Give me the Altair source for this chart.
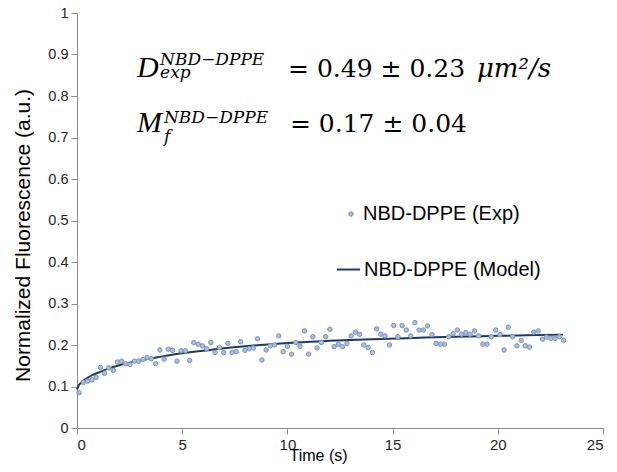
import altair as alt
import pandas as pd

# ---- data ----
exp_time = [0.10, 0.30, 0.50, 0.71, 0.91, 1.11, 1.31, 1.51, 1.72, 1.92,
            2.12, 2.32, 2.52, 2.73, 2.93, 3.13, 3.33, 3.53, 3.74, 3.94,
            4.14, 4.34, 4.54, 4.75, 4.95, 5.15, 5.35, 5.55, 5.76, 5.96,
            6.16, 6.36, 6.56, 6.77, 6.97, 7.17, 7.37, 7.57, 7.78, 7.98,
            8.18, 8.38, 8.58, 8.79, 8.99, 9.19, 9.39, 9.59, 9.80, 10.00,
            10.20, 10.40, 10.60, 10.81, 11.01, 11.21, 11.41, 11.61, 11.82, 12.02,
            12.22, 12.42, 12.62, 12.83, 13.03, 13.23, 13.43, 13.63, 13.84, 14.04,
            14.24, 14.44, 14.64, 14.85, 15.05, 15.25, 15.45, 15.65, 15.86, 16.06,
            16.26, 16.46, 16.66, 16.87, 17.07, 17.27, 17.47, 17.67, 17.88, 18.08,
            18.28, 18.48, 18.68, 18.89, 19.09, 19.29, 19.49, 19.69, 19.90, 20.10,
            20.30, 20.50, 20.70, 20.91, 21.11, 21.31, 21.51, 21.71, 21.92, 22.12,
            22.32, 22.52, 22.72, 22.93, 23.13]
exp_value = [0.085, 0.110, 0.113, 0.116, 0.122, 0.146, 0.132, 0.145, 0.139, 0.159,
             0.161, 0.155, 0.153, 0.161, 0.161, 0.165, 0.170, 0.167, 0.155, 0.188,
             0.166, 0.190, 0.187, 0.161, 0.186, 0.186, 0.163, 0.206, 0.202, 0.198,
             0.191, 0.206, 0.182, 0.194, 0.182, 0.204, 0.182, 0.184, 0.208, 0.187,
             0.191, 0.193, 0.215, 0.164, 0.188, 0.198, 0.200, 0.222, 0.184, 0.197,
             0.178, 0.206, 0.197, 0.234, 0.178, 0.220, 0.193, 0.206, 0.220, 0.238,
             0.196, 0.202, 0.196, 0.204, 0.222, 0.231, 0.226, 0.200, 0.194, 0.182,
             0.239, 0.226, 0.222, 0.200, 0.247, 0.220, 0.247, 0.236, 0.222, 0.254,
             0.236, 0.236, 0.246, 0.225, 0.204, 0.202, 0.202, 0.220, 0.227, 0.236,
             0.226, 0.230, 0.226, 0.234, 0.222, 0.202, 0.202, 0.220, 0.236, 0.225,
             0.188, 0.243, 0.220, 0.198, 0.211, 0.198, 0.195, 0.231, 0.234, 0.214,
             0.219, 0.216, 0.216, 0.220, 0.211]

model_time = [0, 0.1, 0.25, 0.5, 0.75, 1, 1.5, 2, 3, 4, 5, 6, 7, 8, 10, 12, 14, 16, 18, 20, 23.1]
model_value = [0.093, 0.104, 0.112, 0.121, 0.128, 0.133, 0.143, 0.151, 0.163, 0.172,
               0.180, 0.186, 0.192, 0.197, 0.205, 0.210, 0.214, 0.217, 0.220, 0.222, 0.225]

x_ticks = [0, 5, 10, 15, 20, 25]
y_ticks = [0, 0.1, 0.2, 0.3, 0.4, 0.5, 0.6, 0.7, 0.8, 0.9, 1]

exp_name = "NBD-DPPE (Exp)"
model_name = "NBD-DPPE (Model)"

# annotation text (equations), placed in data coordinates
ann_text = ["D", "M", "NBD\u2212DPPE", "exp", "NBD\u2212DPPE", "f",
            "= 0.49 \u00b1 0.23", "= 0.17 \u00b1 0.04", "\u03bcm\u00b2/s"]
ann_t = [2.85, 2.85, 3.95, 3.95, 4.13, 4.13, 10.03, 10.12, 19.01]
ann_v = [0.846, 0.713, 0.875, 0.843, 0.735, 0.690, 0.846, 0.713, 0.846]
ann_style = ["big", "big", "small", "small", "small", "small", "num", "num", "unit"]

# ---- build ----
exp_df = pd.DataFrame({"t": exp_time, "v": exp_value, "series": exp_name})
model_df = pd.DataFrame({"t": model_time, "v": model_value, "series": model_name})
ann_df = pd.DataFrame({"t": ann_t, "v": ann_v, "text": ann_text, "style": ann_style})

axis_color = "#8c8c8c"
label_color = "#262626"
sans = "Liberation Sans"
serif = "DejaVu Serif"

x_enc = alt.X("t:Q", scale=alt.Scale(domain=[0, 25], nice=False, zero=False),
              axis=alt.Axis(values=x_ticks, title="Time (s)", grid=False,
                            tickSize=6, labelPadding=3, labelFontSize=15,
                            labelFont=sans, labelColor=label_color,
                            titleFont=sans, titleFontSize=16, titleFontWeight="normal",
                            titleColor="#000000", titleX=241, titleY=32,
                            titleBaseline="alphabetic",
                            domainColor=axis_color, tickColor=axis_color))
y_enc = alt.Y("v:Q", scale=alt.Scale(domain=[0, 1], nice=False),
              axis=alt.Axis(values=y_ticks, format="~g", title="Normalized Fluorescence (a.u.)",
                            grid=False, tickSize=6, labelPadding=3, labelFontSize=14.5,
                            labelFont=sans, labelColor=label_color,
                            titleFont=sans, titleFontSize=21, titleFontWeight="normal",
                            titleColor="#000000", titleX=-54, titleY=222,
                            titleBaseline="middle",
                            domainColor=axis_color, tickColor=axis_color))

points = alt.Chart(exp_df).mark_point(
    filled=True, size=20, stroke="#7b96c4", strokeWidth=1, opacity=1
).encode(
    x=x_enc, y=y_enc,
    fill=alt.Fill("series:N",
                  scale=alt.Scale(domain=[exp_name], range=["#aabddc"]),
                  legend=alt.Legend(orient="none", legendX=264, legendY=191, title=None,
                                    symbolType="circle", symbolSize=20,
                                    symbolStrokeColor="#7b96c4", symbolStrokeWidth=1,
                                    labelFontSize=20, labelFont=sans, labelColor="#000000",
                                    labelOffset=2, labelLimit=400, padding=0))
)

line = alt.Chart(model_df).mark_line(strokeWidth=2, interpolate="monotone").encode(
    x=x_enc, y=y_enc,
    stroke=alt.Stroke("series:N",
                      scale=alt.Scale(domain=[model_name], range=["#1f3864"]),
                      legend=alt.Legend(orient="none", legendX=259, legendY=244, title=None,
                                        symbolType="stroke", symbolSize=529,
                                        symbolStrokeWidth=2,
                                        labelFontSize=20, labelFont=sans, labelColor="#000000",
                                        labelOffset=3, labelLimit=400, padding=0))
)

def ann_layer(style, size, italic, font):
    kw = dict(align="left", baseline="alphabetic", font=font, fontSize=size, color="#000000")
    if italic:
        kw["fontStyle"] = "italic"
    return alt.Chart(ann_df).transform_filter(
        alt.datum.style == style
    ).mark_text(**kw).encode(x=x_enc, y=y_enc, text="text:N")

chart = alt.layer(
    line, points,
    ann_layer("big", 30, True, "Liberation Serif"),
    ann_layer("small", 17, True, serif),
    ann_layer("num", 25, False, serif),
    ann_layer("unit", 26, True, serif),
).properties(
    width=526, height=415,
    autosize=alt.AutoSizeParams(type="none"),
    padding={"left": 69, "top": 5, "right": 6, "bottom": 36},
).configure_view(stroke=None)

chart.save("out.html", embed_options={"renderer": "svg", "actions": False})
